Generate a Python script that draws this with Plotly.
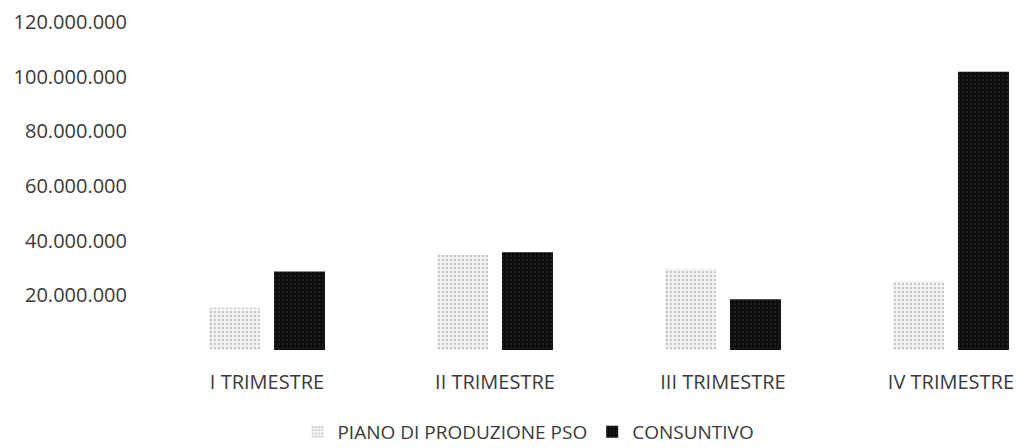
import plotly.graph_objects as go

categories = ["I TRIMESTRE", "II TRIMESTRE", "III TRIMESTRE", "IV TRIMESTRE"]
piano = [15500000, 34800000, 29700000, 25100000]
consuntivo = [28700000, 35800000, 18600000, 101800000]
tick_vals = [20000000, 40000000, 60000000, 80000000, 100000000, 120000000]

fig = go.Figure()
fig.add_trace(go.Bar(
    x=categories, y=piano, name="PIANO DI PRODUZIONE PSO",
    marker=dict(color="#e6e6e6", line=dict(width=0),
                pattern=dict(shape=".", fgcolor="#a0a0a0", bgcolor="#f4f4f4", size=4, solidity=0.35)),
))
fig.add_trace(go.Bar(
    x=categories, y=consuntivo, name="CONSUNTIVO",
    marker=dict(color="#151515", line=dict(width=0),
                pattern=dict(shape=".", fgcolor="#5a5a5a", bgcolor="#0d0d0d", size=4, solidity=0.15)),
))

# page body adds an 8px offset; figure is sized to fit the 1023x448 window
fig.update_layout(
    width=1015, height=440,
    margin=dict(l=145, r=0, t=14, b=98, autoexpand=False),
    paper_bgcolor="white", plot_bgcolor="white",
    barmode="group", bargap=0.43, bargroupgap=0.215,
    separators=",.",
    font=dict(family="Open Sans, Lato, sans-serif", size=20, color="#3a3a3a"),
    legend=dict(orientation="h", x=0.166, xanchor="left", y=-0.25, yanchor="middle",
                font=dict(size=19, color="#3a3a3a"), itemwidth=30, itemsizing="constant"),
    showlegend=True,
)
fig.update_yaxes(range=[0, 120000000], tickvals=tick_vals, tickformat=",.0f",
                 showgrid=False, zeroline=False, showline=False, ticks="", automargin=False,
                 ticklabeloverflow="allow",
                 ticklabelstandoff=25, tickfont=dict(size=20, color="#3a3a3a"))
fig.update_xaxes(range=[-0.5, 3.316], showgrid=False, showline=False, ticks="", automargin=False,
                 ticklabeloverflow="allow",
                 ticklabelstandoff=18, tickfont=dict(size=20, color="#3a3a3a"))

fig.write_html("out.html")
